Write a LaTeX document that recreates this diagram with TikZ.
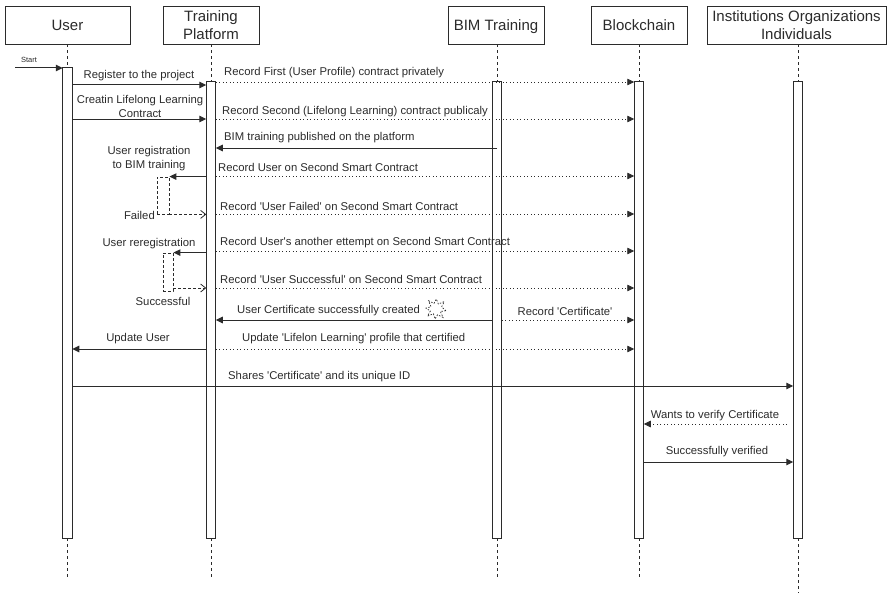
\documentclass[tikz,border=0pt]{standalone}
\usepackage{fontspec}
\setmainfont[Ligatures=TeXOff]{Liberation Sans}
\usetikzlibrary{arrows.meta}
\definecolor{ink}{HTML}{2B2B2B}
\begin{document}
\begin{tikzpicture}[x=1pt,y=-1pt,
 head/.style={draw=ink, line width=0.9pt, fill=white, minimum height=38pt, inner sep=1pt, align=center, font=\fontsize{15}{18.5}\selectfont, text=ink},
 bar/.style={draw=ink, line width=1pt, fill=white, minimum width=9.5pt, inner sep=0pt, outer sep=0pt},
 life/.style={draw=ink, line width=0.7pt, dash pattern=on 3pt off 3pt},
 msg/.style={draw=ink, line width=1pt, -{Triangle[length=7pt,width=6.5pt]}},
 rec/.style={draw=ink, line width=0.8pt, dash pattern=on 1pt off 2.5pt, -{Triangle[length=7pt,width=6.5pt]}},
 ret/.style={draw=ink, line width=0.8pt, dash pattern=on 3pt off 2pt, -{Straight Barb[length=5pt,width=8pt]}},
 lbl/.style={text=ink, font=\fontsize{11.3}{14}\selectfont, inner sep=0pt},
 selfbox/.style={draw=ink, line width=0.8pt, dash pattern=on 3pt off 2pt, inner sep=0pt},
 burst/.style={draw=ink, line width=0.7pt, dash pattern=on 1.5pt off 1.5pt},
]
\useasboundingbox (0,0) rectangle (887,594);

% headers
\node[head, minimum width=125pt] (hU) at (67.5,25) {User};
\node[head, minimum width=96pt] (hTP) at (211,25) {Training\\Platform};
\node[head, minimum width=96pt, text depth=0pt] (hBIM) at (496,25) {BIM Training};
\node[head, minimum width=96pt] (hBC) at (639,25) {Blockchain};
\node[head, minimum width=179pt] (hI) at (796.5,25) {Institutions Organizations\\Individuals};

% activation bars
\node[bar, minimum height=470pt] (barU) at (67.5,303) {};
\node[bar, minimum height=456pt] (barTP) at (211,310) {};
\node[bar, minimum height=456pt] (barBIM) at (497,310) {};
\node[bar, minimum height=456pt] (barBC) at (639,310) {};
\node[bar, minimum height=456pt] (barI) at (798,310) {};

% lifelines
\coordinate (eU) at (67.5,577);
\coordinate (eTP) at (211,577);
\coordinate (eBIM) at (497,577);
\coordinate (eBC) at (639,577);
\coordinate (eI) at (798,593);
\draw[life] (barU.north |- hU.south) -- (barU.north);
\draw[life] (barTP.north |- hTP.south) -- (barTP.north);
\draw[life] (barBIM.north |- hBIM.south) -- (barBIM.north);
\draw[life] (barBC.north |- hBC.south) -- (barBC.north);
\draw[life] (barI.north |- hI.south) -- (barI.north);
\draw[life] (barU.south) -- (eU);
\draw[life] (barTP.south) -- (eTP);
\draw[life] (barBIM.south) -- (eBIM);
\draw[life] (barBC.south) -- (eBC);
\draw[life] (barI.south) -- (eI);

% start
\coordinate (start) at (15,68);
\draw[msg] (start) -- (barU.west |- start);
\node[text=ink, font=\fontsize{7.5}{9}\selectfont, inner sep=0pt] (lstart) at (29,60) {Start};

% register
\draw[msg] (barU.east |- 0,85) -- (barTP.west |- 0,85);
\node[lbl] (l1) at (139,76) {Register to the project};
\draw[rec] (barTP.east |- 0,82) -- (barBC.west |- 0,82);
\node[lbl,anchor=west] (l2) at (224,73) {Record First (User Profile) contract privately};

% creatin
\draw[msg] (barU.east |- 0,119) -- (barTP.west |- 0,119);
\node[lbl,align=center] (l3) at (140,106) {Creatin Lifelong Learning\\Contract};
\draw[rec] (barTP.east |- 0,119) -- (barBC.west |- 0,119);
\node[lbl,anchor=west] (l4) at (222,112) {Record Second (Lifelong Learning) contract publicaly};

% BIM published
\draw[msg] (barBIM.center |- 0,148) -- (barTP.east |- 0,148);
\node[lbl,anchor=west] (l5) at (224,138) {BIM training published on the platform};

% user registration
\node[selfbox, minimum width=12pt, minimum height=37pt] (sb1) at (163,195.5) {};
\draw[msg] (barTP.west |- sb1.north east) -- (sb1.north east);
\node[lbl,align=center] (l6) at (149,159) {User registration\\to BIM training};
\draw[ret] (sb1.south east) -- (barTP.west |- sb1.south east);
\node[lbl,anchor=east] (l7) at (155,215) {Failed};
\draw[rec] (barTP.east |- 0,176) -- (barBC.west |- 0,176);
\node[lbl,anchor=west] (l8) at (218,167) {Record User on Second Smart Contract};
\draw[rec] (barTP.east |- 0,214) -- (barBC.west |- 0,214);
\node[lbl,anchor=west] (l9) at (220,206) {Record 'User Failed' on Second Smart Contract};

% reregistration
\node[selfbox, minimum width=10pt, minimum height=38pt] (sb2) at (168,272) {};
\draw[msg] (barTP.west |- sb2.north east) -- (sb2.north east);
\node[lbl] (l10) at (149,244) {User reregistration};
\coordinate (r2) at (173,288);
\draw[ret] (r2) -- (barTP.west |- r2);
\node[lbl] (l11) at (163,301) {Successful};
\draw[rec] (barTP.east |- 0,251) -- (barBC.west |- 0,251);
\node[lbl,anchor=west] (l12) at (220,243) {Record User's another ettempt on Second Smart Contract};
\draw[rec] (barTP.east |- 0,288) -- (barBC.west |- 0,288);
\node[lbl,anchor=west] (l13) at (220,279) {Record 'User Successful' on Second Smart Contract};

% certificate
\draw[msg] (barBIM.west |- 0,320) -- (barTP.east |- 0,320);
\node[lbl,anchor=west] (l14) at (237,311) {User Certificate successfully created};
\coordinate (star) at (436,309);
\draw[burst] ([shift={(10:10)}]star) -- ([shift={(30:5)}]star) -- ([shift={(50:11)}]star) -- ([shift={(75:6)}]star)
 -- ([shift={(95:10)}]star) -- ([shift={(118:5.5)}]star) -- ([shift={(140:11)}]star) -- ([shift={(160:6)}]star)
 -- ([shift={(185:10)}]star) -- ([shift={(205:5.5)}]star) -- ([shift={(228:11)}]star) -- ([shift={(250:6)}]star)
 -- ([shift={(272:10)}]star) -- ([shift={(295:5.5)}]star) -- ([shift={(318:11)}]star) -- ([shift={(340:6)}]star) -- cycle;
\draw[rec] (barBIM.east |- 0,320) -- (barBC.west |- 0,320);
\node[lbl] (l15) at (565,311) {Record 'Certificate'};

% update
\draw[msg] (barTP.west |- 0,349) -- (barU.east |- 0,349);
\node[lbl] (l16) at (138,339) {Update User};
\draw[rec] (barTP.east |- 0,349) -- (barBC.west |- 0,349);
\node[lbl,anchor=west] (l17) at (242,339) {Update 'Lifelon Learning' profile that certified};

% shares
\draw[msg] (barU.east |- 0,386) -- (barI.west |- 0,386);
\node[lbl,anchor=west] (l18) at (228,377) {Shares 'Certificate' and its unique ID};

% verify
\coordinate (w0) at (787,424);
\draw[rec] (w0) -- (barBC.east |- w0);
\node[lbl] (l19) at (715,416) {Wants to verify Certificate};
\draw[msg] (barBC.east |- 0,462) -- (barI.west |- 0,462);
\node[lbl] (l20) at (717,452) {Successfully verified};
\end{tikzpicture}
\end{document}
